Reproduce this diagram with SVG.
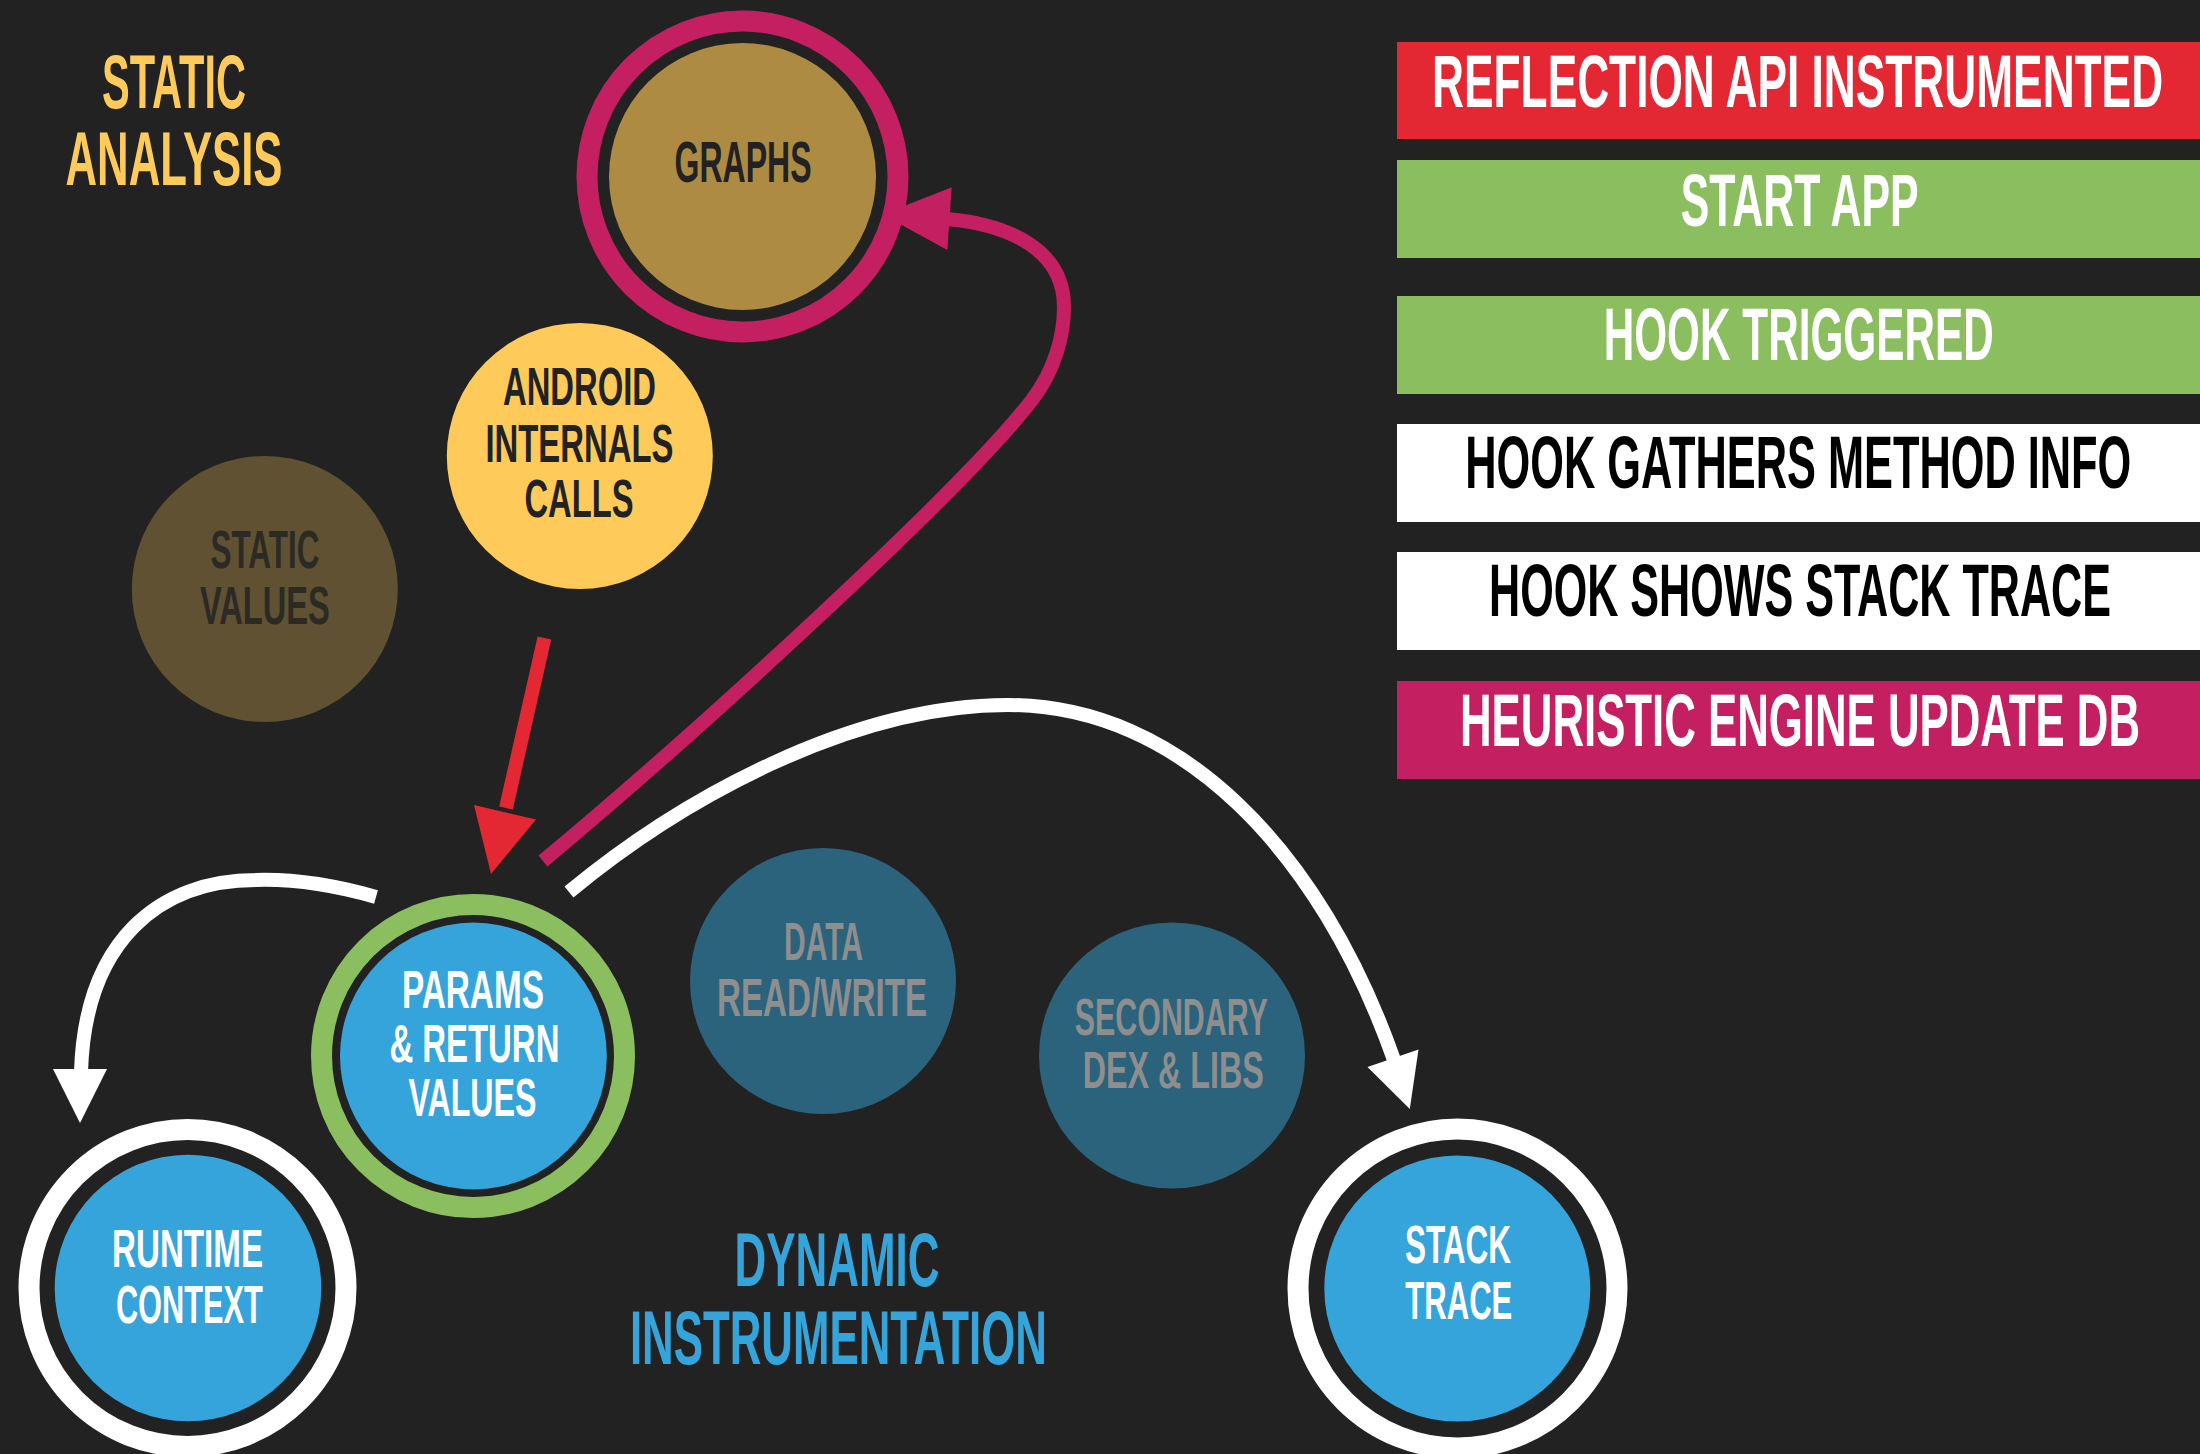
<svg xmlns="http://www.w3.org/2000/svg" width="2200" height="1454" viewBox="0 0 2200 1454">
<style>
  .t { font-family: "Liberation Sans", Arial, sans-serif; font-weight: bold; text-anchor: middle; }
  .node { font-size: 54px; }
  .title { font-size: 76px; }
  .bar { font-size: 74px; }
  .dark { fill: #222222; }
  .white { fill: #ffffff; }
  .gray { fill: #8e8e8e; }
  .ring { fill: none; stroke-width: 21; }
  .conn { fill: none; stroke-width: 14; stroke-linecap: butt; }
</style>
<rect width="2200" height="1454" fill="#222222"/>

<g id="title-static">
  <text class="t title" x="174" y="107.6" fill="#fecb5b" textLength="144" lengthAdjust="spacingAndGlyphs">STATIC</text>
  <text class="t title" x="174" y="185" fill="#fecb5b" textLength="217" lengthAdjust="spacingAndGlyphs">ANALYSIS</text>
</g>

<g id="title-dynamic">
  <text class="t title" x="837" y="1285.7" fill="#35a4db" textLength="205" lengthAdjust="spacingAndGlyphs">DYNAMIC</text>
  <text class="t title" x="838.4" y="1363.6" fill="#35a4db" textLength="417" lengthAdjust="spacingAndGlyphs">INSTRUMENTATION</text>
</g>

<g id="graphs">
  <circle cx="742.5" cy="176.5" r="155.5" class="ring" stroke="#c41f60"/>
  <circle cx="742.5" cy="176.5" r="133.5" fill="#ad8b43"/>
  <text class="t dark" x="743" y="182" font-size="57" textLength="137" lengthAdjust="spacingAndGlyphs">GRAPHS</text>
</g>

<g id="android-internals">
  <circle cx="579.8" cy="456" r="133" fill="#fecb5b"/>
  <text class="t node dark" x="579.5" y="405" textLength="153" lengthAdjust="spacingAndGlyphs">ANDROID</text>
  <text class="t node dark" x="579.4" y="461.5" textLength="188" lengthAdjust="spacingAndGlyphs">INTERNALS</text>
  <text class="t node dark" x="579" y="517" textLength="109" lengthAdjust="spacingAndGlyphs">CALLS</text>
</g>

<g id="static-values">
  <circle cx="264.8" cy="589" r="133" fill="#5f5131"/>
  <text class="t node" fill="#2c2a24" x="264.9" y="568" textLength="109" lengthAdjust="spacingAndGlyphs">STATIC</text>
  <text class="t node" fill="#2c2a24" x="264.9" y="624" textLength="130" lengthAdjust="spacingAndGlyphs">VALUES</text>
</g>

<g id="params">
  <circle cx="473" cy="1056" r="151.5" class="ring" stroke="#8bbe5f"/>
  <circle cx="473.4" cy="1056" r="133.4" fill="#35a4db"/>
  <text class="t node white" x="472.9" y="1008" textLength="142" lengthAdjust="spacingAndGlyphs">PARAMS</text>
  <text class="t node white" x="474.4" y="1061.6" textLength="170" lengthAdjust="spacingAndGlyphs">&amp; RETURN</text>
  <text class="t node white" x="472.4" y="1116" textLength="128" lengthAdjust="spacingAndGlyphs">VALUES</text>
</g>

<g id="data-rw">
  <circle cx="823" cy="981" r="133" fill="#2b637d"/>
  <text class="t node gray" x="823.5" y="960" textLength="79" lengthAdjust="spacingAndGlyphs">DATA</text>
  <text class="t node gray" x="822" y="1016" textLength="210" lengthAdjust="spacingAndGlyphs">READ/WRITE</text>
</g>

<g id="secondary-dex">
  <circle cx="1172" cy="1055.5" r="133" fill="#2b637d"/>
  <text class="t gray" font-size="51" x="1171.3" y="1035" textLength="193" lengthAdjust="spacingAndGlyphs">SECONDARY</text>
  <text class="t gray" font-size="51" x="1173.3" y="1087.5" textLength="181" lengthAdjust="spacingAndGlyphs">DEX &amp; LIBS</text>
</g>

<g id="runtime-context">
  <circle cx="187.5" cy="1288" r="158.5" class="ring" stroke="#ffffff"/>
  <circle cx="188" cy="1288" r="133.3" fill="#35a4db"/>
  <text class="t node white" x="187.5" y="1266.5" textLength="151" lengthAdjust="spacingAndGlyphs">RUNTIME</text>
  <text class="t node white" x="189.4" y="1322.7" textLength="147" lengthAdjust="spacingAndGlyphs">CONTEXT</text>
</g>

<g id="stack-trace">
  <circle cx="1457.5" cy="1288.5" r="159.5" class="ring" stroke="#ffffff"/>
  <circle cx="1457.3" cy="1288.5" r="133" fill="#35a4db"/>
  <text class="t white" font-size="53" x="1458" y="1263" textLength="106" lengthAdjust="spacingAndGlyphs">STACK</text>
  <text class="t white" font-size="53" x="1458.8" y="1319" textLength="107" lengthAdjust="spacingAndGlyphs">TRACE</text>
</g>

<g id="steps">
  <g id="step-reflection">
    <rect x="1397" y="42" width="803" height="97" fill="#e32733"/>
    <text class="t bar white" x="1797.6" y="107.4" textLength="731" lengthAdjust="spacingAndGlyphs">REFLECTION API INSTRUMENTED</text>
  </g>
  <g id="step-start">
    <rect x="1397" y="160" width="803" height="98" fill="#8bbe5f"/>
    <text class="t bar white" x="1799.7" y="226.3" textLength="238" lengthAdjust="spacingAndGlyphs">START APP</text>
  </g>
  <g id="step-hook">
    <rect x="1397" y="296" width="803" height="98" fill="#8bbe5f"/>
    <text class="t bar white" x="1798.7" y="360" textLength="390" lengthAdjust="spacingAndGlyphs">HOOK TRIGGERED</text>
  </g>
  <g id="step-gathers">
    <rect x="1397" y="424" width="803" height="98" fill="#ffffff"/>
    <text class="t bar" fill="#000000" x="1798.3" y="487.6" textLength="666" lengthAdjust="spacingAndGlyphs">HOOK GATHERS METHOD INFO</text>
  </g>
  <g id="step-stack">
    <rect x="1397" y="552" width="803" height="98" fill="#ffffff"/>
    <text class="t bar" fill="#000000" x="1800" y="615.8" textLength="622" lengthAdjust="spacingAndGlyphs">HOOK SHOWS STACK TRACE</text>
  </g>
  <g id="step-heuristic">
    <rect x="1397" y="681" width="803" height="98" fill="#c41f60"/>
    <text class="t bar white" x="1800" y="746" textLength="680" lengthAdjust="spacingAndGlyphs">HEURISTIC ENGINE UPDATE DB</text>
  </g>
</g>

<g id="connectors">
  <!-- red: android internals -> params -->
  <path class="conn" stroke="#e32733" d="M544.4,638 L506,808"/>
  <polygon fill="#e32733" points="474,805 536,819.5 491,874"/>
  <!-- magenta: params -> graphs -->
  <path class="conn" stroke="#c41f60" stroke-width="15" d="M543,861 C693,736 962,491 1032,400 C1055,370 1064,335 1064,307 C1064,250 1010,225 948,219"/>
  <polygon fill="#c41f60" points="951.7,187.3 947.3,250 882.5,214.5"/>
  <!-- white: params -> runtime context -->
  <path class="conn" stroke="#ffffff" stroke-width="13" d="M376,897 C330,884 290,879 256,880 C160,880 85,940 81,1072"/>
  <polygon fill="#ffffff" points="53,1069 107,1069 80,1123"/>
  <!-- white: params -> stack trace -->
  <path class="conn" stroke="#ffffff" stroke-width="13" d="M569,892 C680,800 850,705 1008,705 C1180,705 1320,850 1394,1060"/>
  <polygon fill="#ffffff" points="1367.5,1067 1418.5,1049.5 1409.8,1109"/>
</g>
</svg>
